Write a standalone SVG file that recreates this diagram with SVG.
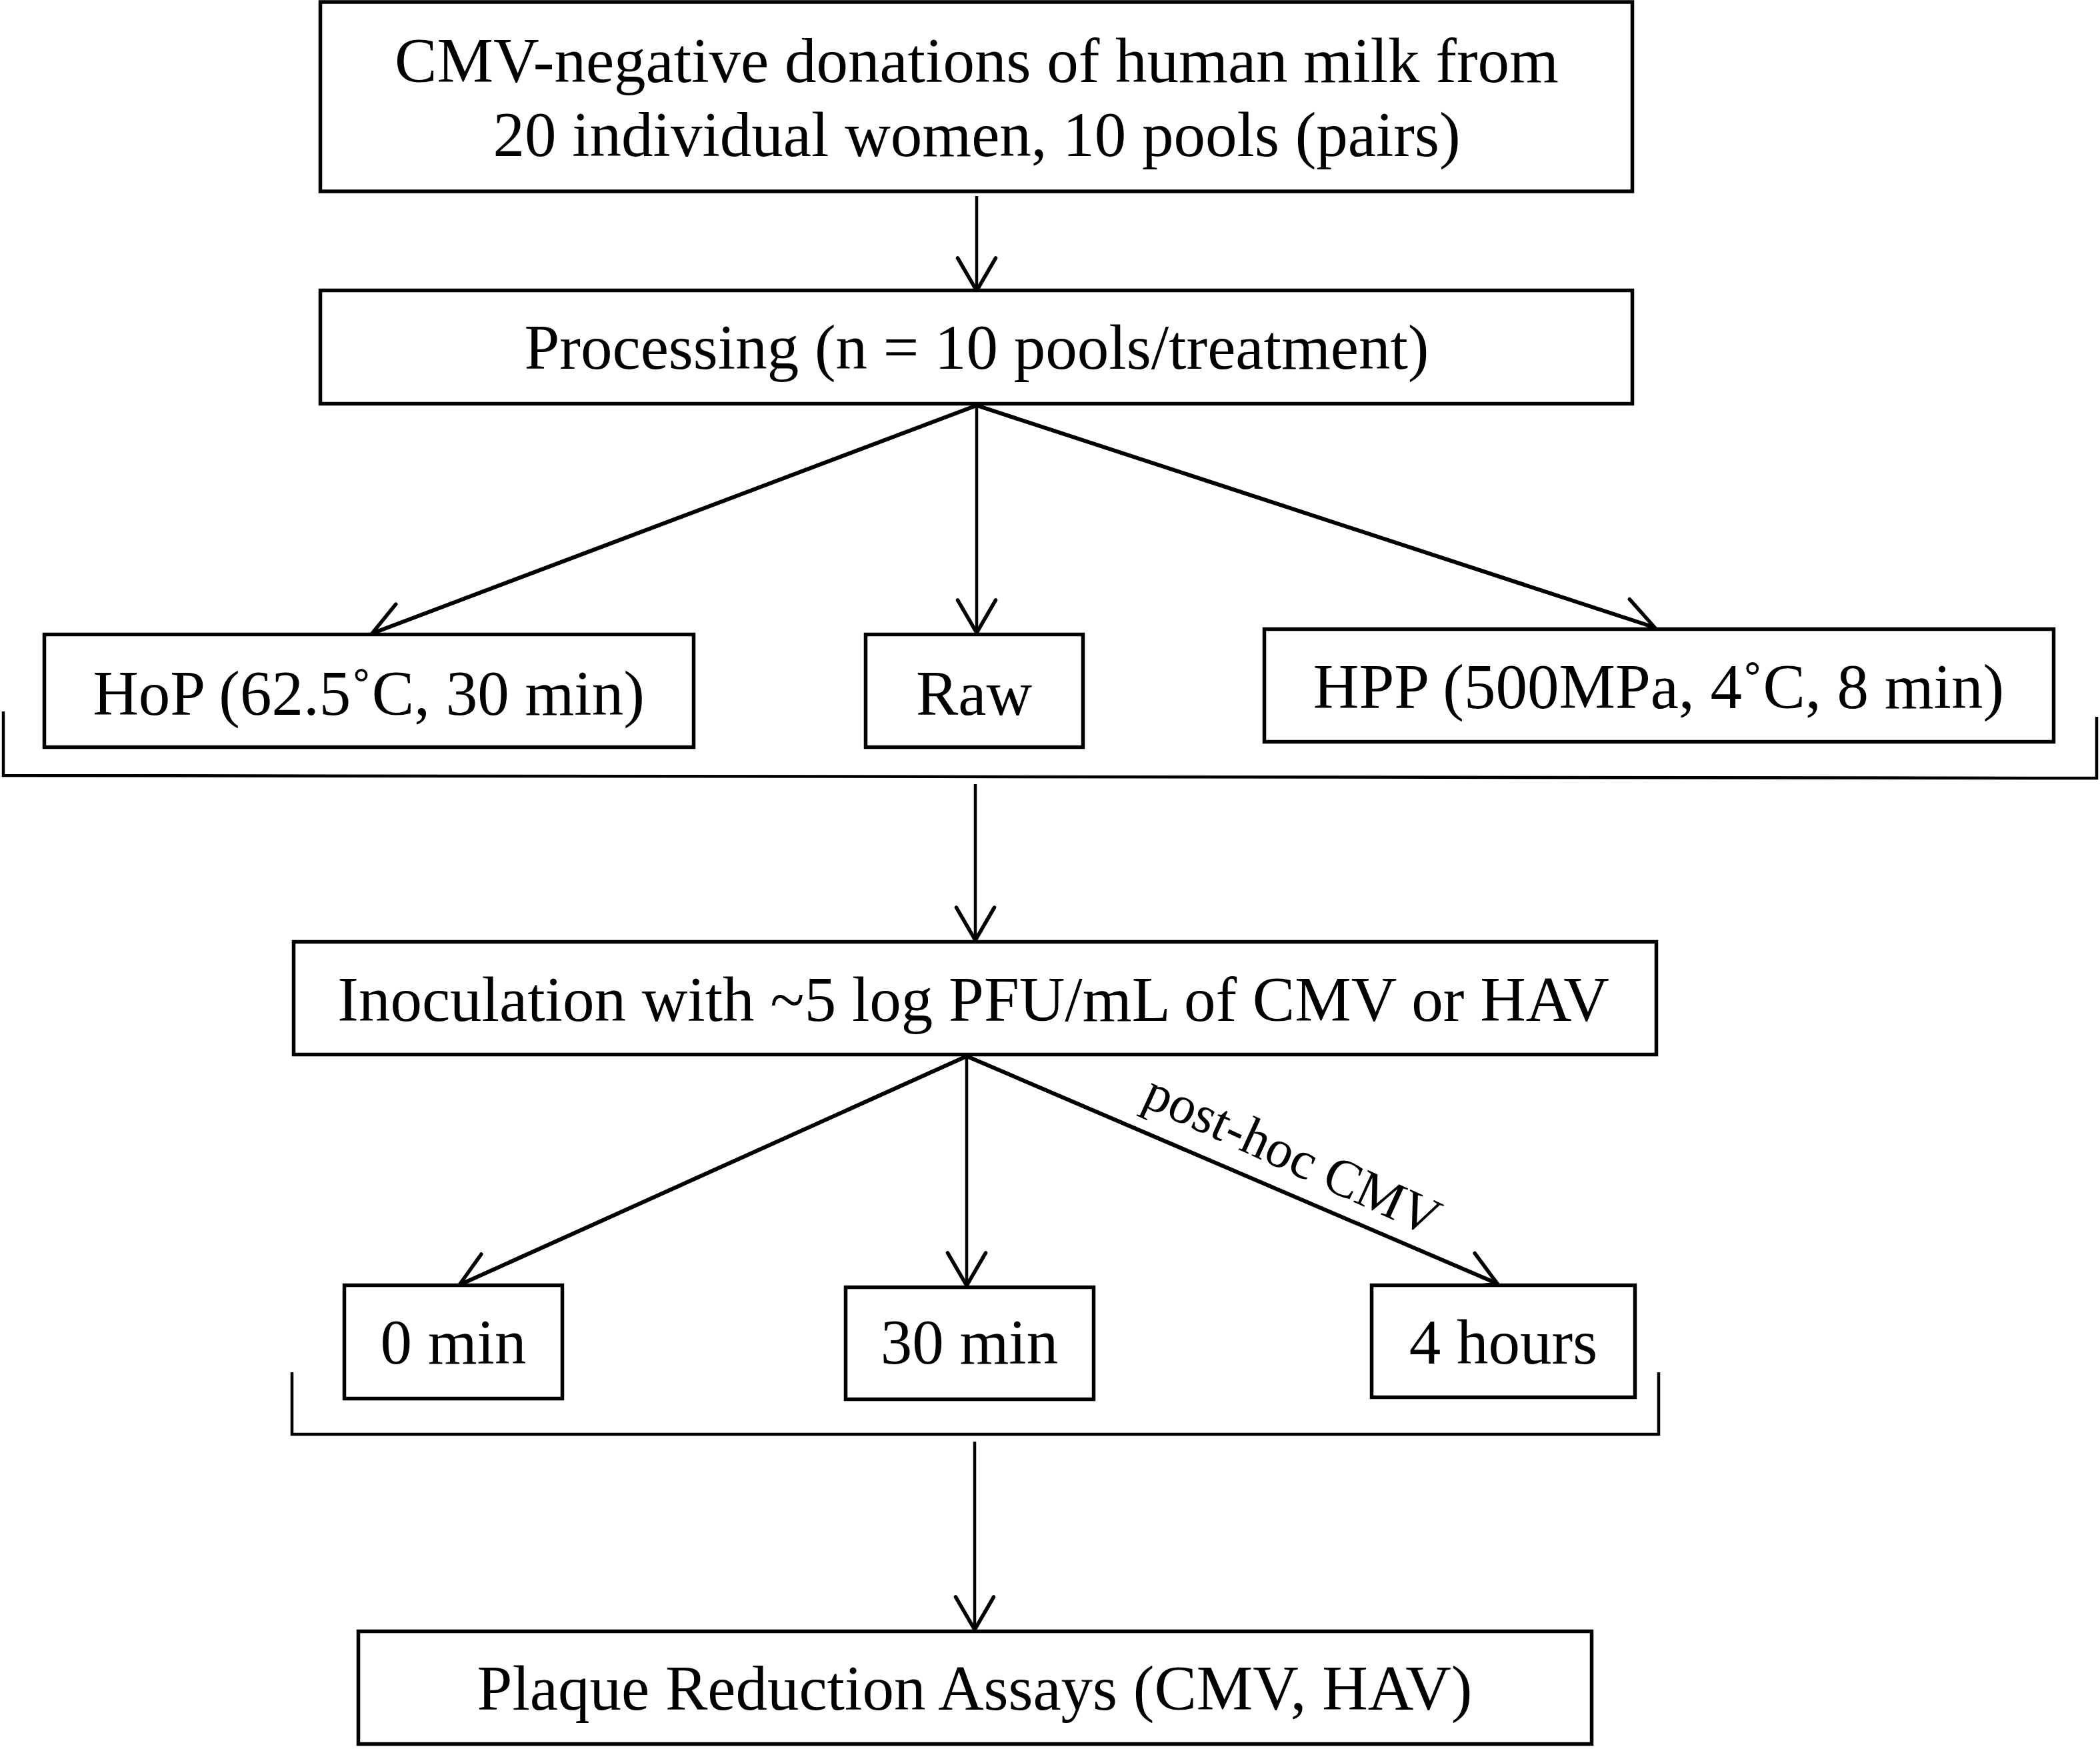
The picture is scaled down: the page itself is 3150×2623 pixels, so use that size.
<svg xmlns="http://www.w3.org/2000/svg" width="3150" height="2623" viewBox="0 0 3150 2623">
<style>
.box{fill:#fff;stroke:#000;stroke-width:5.5}
.lbl{font-family:"Liberation Serif","Times New Roman",serif;font-size:95px;fill:#000;text-anchor:middle}
.v{fill:none;stroke:#000;stroke-width:4.5}
.d{fill:none;stroke:#000;stroke-width:6}
.br{fill:none;stroke:#000;stroke-width:4.5}
</style>
<defs>
<marker id="ah" markerUnits="userSpaceOnUse" markerWidth="80" markerHeight="80" viewBox="0 0 80 80" refX="65" refY="40" orient="auto" overflow="visible">
<path d="M16,11.5 L65,40 L16,68.5" fill="none" stroke="#000" stroke-width="5.5" stroke-linecap="round" stroke-linejoin="miter"/>
</marker>
</defs>
<rect width="3150" height="2623" fill="#fff"/>
<g id="connectors">
<line class="v" x1="1465" y1="294" x2="1465" y2="436" marker-end="url(#ah)"/>
<line class="d" x1="1465" y1="608" x2="558" y2="950" marker-end="url(#ah)"/>
<line class="v" x1="1465" y1="608" x2="1465" y2="949" marker-end="url(#ah)"/>
<line class="d" x1="1465" y1="608" x2="2482" y2="941" marker-end="url(#ah)"/>
<polyline class="br" points="5,1067 5,1163 3145,1167 3145,1075"/>
<line class="v" x1="1463" y1="1176" x2="1463" y2="1410" marker-end="url(#ah)"/>
<line class="d" x1="1450" y1="1584" x2="689" y2="1927" marker-end="url(#ah)"/>
<line class="v" x1="1450" y1="1584" x2="1450" y2="1928" marker-end="url(#ah)"/>
<line class="d" x1="1450" y1="1584" x2="2246" y2="1925" marker-end="url(#ah)"/>
<text class="lbl" style="font-size:80px" transform="translate(1928,1756) rotate(24.5)" x="0" y="0">post-hoc CMV</text>
<polyline class="br" points="438,2058 438,2151 2488,2151 2488,2058"/>
<line class="v" x1="1462" y1="2162" x2="1462" y2="2444" marker-end="url(#ah)"/>
</g>
<g id="n-donations">
<rect class="box" x="480.5" y="3" width="1968" height="284"/>
<text class="lbl" x="1465" y="123">CMV-negative donations of human milk from</text>
<text class="lbl" x="1465" y="234">20 individual women, 10 pools (pairs)</text>
</g>
<g id="n-processing">
<rect class="box" x="480.5" y="435.5" width="1968" height="170"/>
<text class="lbl" x="1465" y="553">Processing (n = 10 pools/treatment)</text>
</g>
<g id="n-hop">
<rect class="box" x="66.5" y="951.5" width="974" height="169"/>
<text class="lbl" x="553" y="1072">HoP (62.5˚C, 30 min)</text>
</g>
<g id="n-raw">
<rect class="box" x="1298.5" y="951.5" width="326" height="169"/>
<text class="lbl" x="1461" y="1072">Raw</text>
</g>
<g id="n-hpp">
<rect class="box" x="1896.5" y="943.5" width="1184" height="169"/>
<text class="lbl" x="2488" y="1062">HPP (500MPa, 4˚C, 8 min)</text>
</g>
<g id="n-inoculation">
<rect class="box" x="440.5" y="1412.5" width="2044" height="169"/>
<text class="lbl" x="1460" y="1531">Inoculation with ~5 log PFU/mL of CMV or HAV</text>
</g>
<g id="n-0min">
<rect class="box" x="516.5" y="1927.5" width="327" height="170"/>
<text class="lbl" x="680" y="2045">0 min</text>
</g>
<g id="n-30min">
<rect class="box" x="1268.5" y="1930.5" width="372" height="168"/>
<text class="lbl" x="1454" y="2045">30 min</text>
</g>
<g id="n-4hours">
<rect class="box" x="2057.5" y="1927.5" width="395" height="168"/>
<text class="lbl" x="2255" y="2045">4 hours</text>
</g>
<g id="n-plaque">
<rect class="box" x="537.5" y="2446.5" width="1850" height="169"/>
<text class="lbl" x="1462" y="2564">Plaque Reduction Assays (CMV, HAV)</text>
</g>
</svg>
